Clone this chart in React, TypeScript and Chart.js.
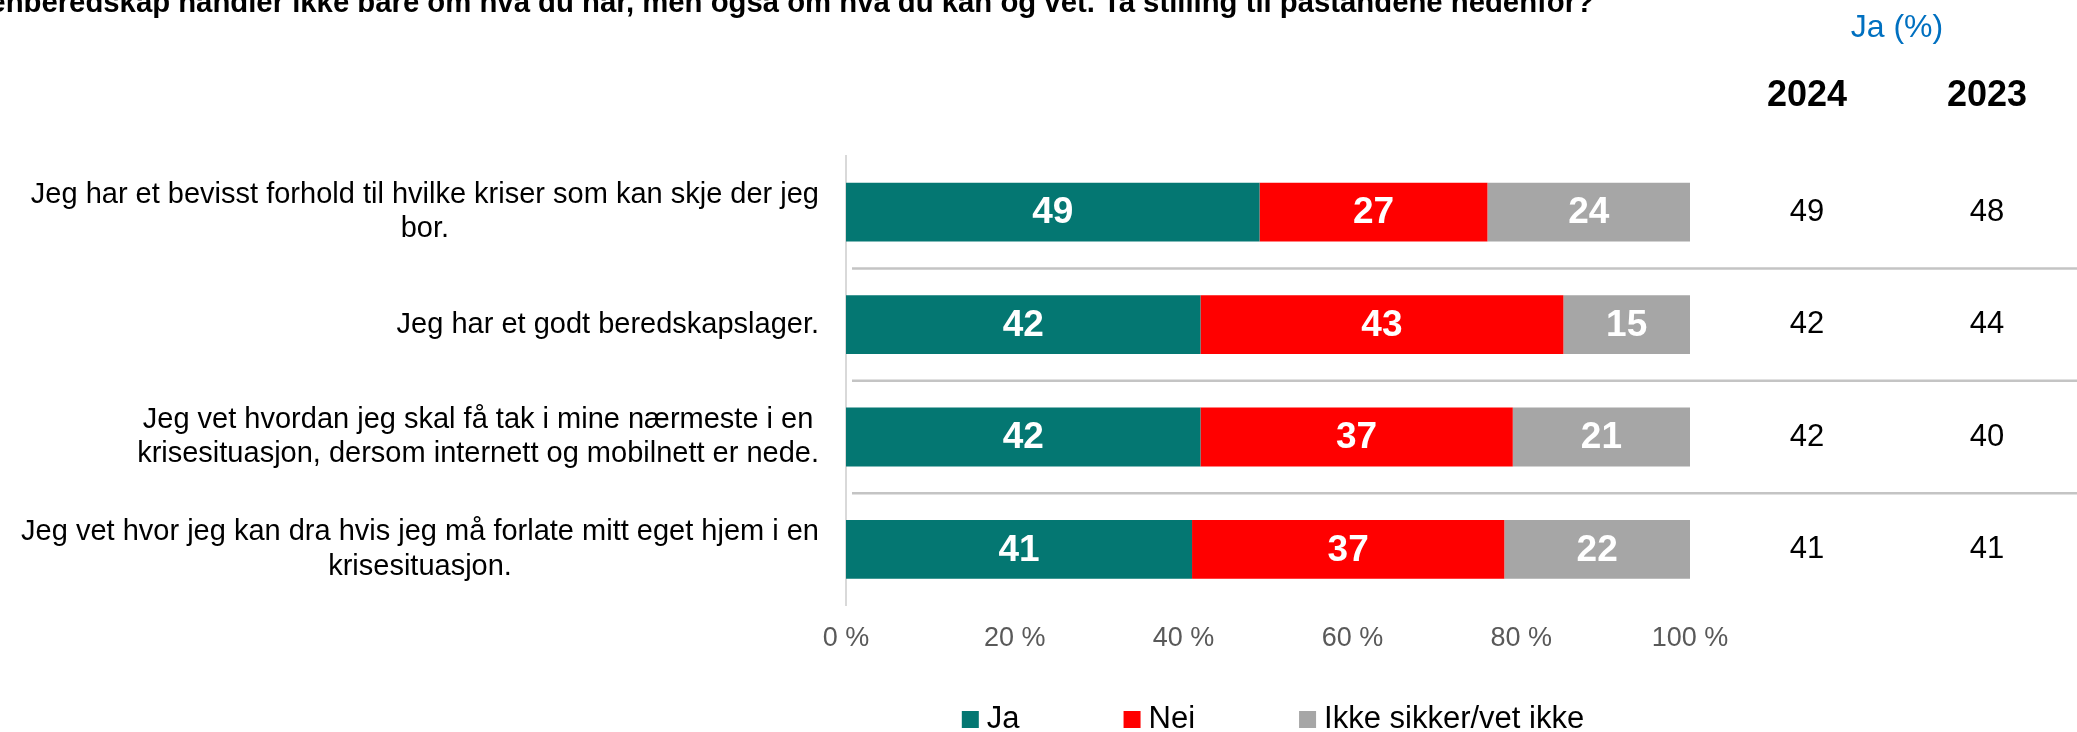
import React, { useEffect, useRef } from "react";
import { Chart, registerables } from "chart.js";

Chart.register(...registerables);

const categories: string[][] = [
  ["Jeg har et bevisst forhold til hvilke kriser som kan skje der jeg", "bor."],
  ["Jeg har et godt beredskapslager."],
  ["Jeg vet hvordan jeg skal få tak i mine nærmeste i en", "krisesituasjon, dersom internett og mobilnett er nede."],
  ["Jeg vet hvor jeg kan dra hvis jeg må forlate mitt eget hjem i en", "krisesituasjon."],
];
const jaValues = [49, 42, 42, 41];
const neiValues = [27, 43, 37, 37];
const ikkeValues = [24, 15, 21, 22];
const ja2024 = [49, 42, 42, 41];
const ja2023 = [48, 44, 40, 41];
const seriesLabels = ["Ja", "Nei", "Ikke sikker/vet ikke"];
const seriesColors = ["#047772", "#ff0000", "#a6a6a6"];
const xTickValues = [0, 20, 40, 60, 80, 100];
const titleText =
  "Egenberedskap handler ikke bare om hva du har, men også om hva du kan og vet. Ta stilling til påstandene nedenfor?";
const tableTitle = "Ja (%)";
const yearLabels = ["2024", "2023"];

const FONT = '"Liberation Sans", Arial, Helvetica, sans-serif';

const decorPlugin = {
  id: "decor",
  afterDatasetsDraw(chart: any) {
    const ctx = chart.ctx as CanvasRenderingContext2D;
    ctx.save();
    ctx.fillStyle = "#ffffff";
    ctx.font = `bold 37px ${FONT}`;
    ctx.textAlign = "center";
    ctx.textBaseline = "middle";
    chart.data.datasets.forEach((ds: any, di: number) => {
      const meta = chart.getDatasetMeta(di);
      meta.data.forEach((el: any, i: number) => {
        const p = el.getProps(["x", "y", "base"], true);
        const cx = (p.x + p.base) / 2;
        ctx.fillText(String(ds.data[i]), cx, p.y + 1);
      });
    });
    ctx.restore();
  },
  afterDraw(chart: any) {
    const ctx = chart.ctx as CanvasRenderingContext2D;
    const area = chart.chartArea;
    const yScale = chart.scales.y;
    const W = chart.width;
    ctx.save();

    // title (top clipped)
    ctx.fillStyle = "#000000";
    ctx.font = `bold 29.3px ${FONT}`;
    ctx.textAlign = "right";
    ctx.textBaseline = "alphabetic";
    ctx.fillText(titleText, 1594, 12);

    // category labels
    ctx.font = `29px ${FONT}`;
    ctx.textAlign = "center";
    ctx.textBaseline = "middle";
    const lineH = 34.5;
    const rightEdge = area.left - 27;
    categories.forEach((lines, i) => {
      const yc = yScale.getPixelForValue(i);
      const maxW = Math.max(...lines.map((l) => ctx.measureText(l).width));
      const cx = rightEdge - maxW / 2;
      const y0 = yc - ((lines.length - 1) * lineH) / 2;
      lines.forEach((l, k) => ctx.fillText(l, cx, y0 + k * lineH));
    });

    // separator lines
    ctx.strokeStyle = "#c4c4c4";
    ctx.lineWidth = 2.5;
    for (let i = 0; i < categories.length - 1; i++) {
      const y = yScale.getPixelForValue(i + 0.5);
      ctx.beginPath();
      ctx.moveTo(area.left + 6, y);
      ctx.lineTo(W, y);
      ctx.stroke();
    }

    // table
    const col1 = area.right + 117;
    const col2 = area.right + 297;
    ctx.fillStyle = "#0070c0";
    ctx.font = `32px ${FONT}`;
    ctx.textAlign = "center";
    ctx.textBaseline = "alphabetic";
    ctx.fillText(tableTitle, (col1 + col2) / 2, 37);

    ctx.fillStyle = "#000000";
    ctx.font = `bold 36px ${FONT}`;
    ctx.textBaseline = "middle";
    ctx.fillText(yearLabels[0], col1, 96);
    ctx.fillText(yearLabels[1], col2, 96);

    ctx.font = `31px ${FONT}`;
    categories.forEach((_, i) => {
      const yc = yScale.getPixelForValue(i);
      ctx.fillText(String(ja2024[i]), col1, yc);
      ctx.fillText(String(ja2023[i]), col2, yc);
    });

    // legend
    ctx.font = `31px ${FONT}`;
    ctx.textAlign = "left";
    ctx.textBaseline = "alphabetic";
    const box = 17;
    const gap = 8;
    const pad = 104;
    const widths = seriesLabels.map((l) => ctx.measureText(l).width);
    const total =
      widths.reduce((a, w) => a + box + gap + w, 0) + pad * (seriesLabels.length - 1);
    let x = (area.left + area.right) / 2 + 5 - total / 2;
    const base = 728;
    seriesLabels.forEach((l, i) => {
      ctx.fillStyle = seriesColors[i];
      ctx.fillRect(x, base - box, box, box);
      ctx.fillStyle = "#000000";
      ctx.fillText(l, x + box + gap, base);
      x += box + gap + widths[i] + pad;
    });

    ctx.restore();
  },
};

export default function App() {
  const ref = useRef<HTMLCanvasElement | null>(null);
  useEffect(() => {
    if (!ref.current) return;
    const chart = new Chart(ref.current, {
      type: "bar",
      data: {
        labels: categories.map((c) => c.join(" ")),
        datasets: [
          { label: seriesLabels[0], data: jaValues, backgroundColor: seriesColors[0] },
          { label: seriesLabels[1], data: neiValues, backgroundColor: seriesColors[1] },
          { label: seriesLabels[2], data: ikkeValues, backgroundColor: seriesColors[2] },
        ],
      },
      options: {
        indexAxis: "y",
        animation: false,
        responsive: true,
        maintainAspectRatio: false,
        layout: { padding: { left: 846, right: 387, top: 156, bottom: 60 } },
        datasets: { bar: { categoryPercentage: 1, barPercentage: 0.523 } },
        plugins: { legend: { display: false }, tooltip: { enabled: false }, title: { display: false } },
        scales: {
          x: {
            stacked: true,
            min: 0,
            max: 100,
            afterBuildTicks: (scale: any) => {
              scale.ticks = xTickValues.map((v) => ({ value: v }));
            },
            grid: { display: false, drawTicks: false },
            border: { display: false },
            ticks: {
              padding: 17,
              color: "#595959",
              font: { family: FONT, size: 27 },
              callback: (v: any) => `${v} %`,
              maxRotation: 0,
            },
          },
          y: {
            stacked: true,
            grid: { display: false, drawTicks: false },
            border: { display: true, color: "#d9d9d9", width: 2 },
            ticks: { display: false },
          },
        },
      },
      plugins: [decorPlugin],
    } as any);
    return () => chart.destroy();
  }, []);
  return (
    <div style={{ position: "fixed", left: 0, top: 0, width: "2077px", height: "732px", background: "#ffffff" }}>
      <canvas ref={ref} />
    </div>
  );
}
